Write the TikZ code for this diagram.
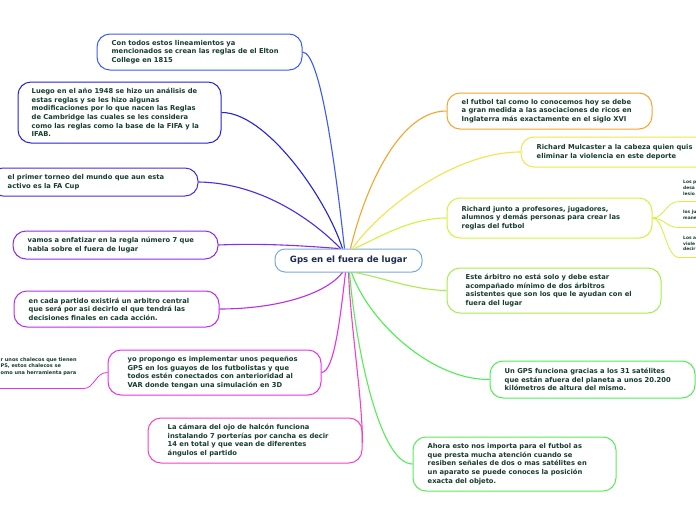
\documentclass[tikz,border=0pt]{standalone}
\usepackage{fontspec}
\setmainfont{DejaVu Sans}
\definecolor{txt}{HTML}{163C2C}
\definecolor{ctxt}{HTML}{1B2A50}
\definecolor{cb}{HTML}{7AAAD8}
\definecolor{c1}{HTML}{3C5CF0}
\definecolor{c2}{HTML}{2424D4}
\definecolor{c3}{HTML}{4E2ADA}
\definecolor{c4}{HTML}{8C2CE4}
\definecolor{c5}{HTML}{B830E4}
\definecolor{c6}{HTML}{E434E6}
\definecolor{c7}{HTML}{F242C4}
\definecolor{r1}{HTML}{F5A42C}
\definecolor{r2}{HTML}{F3E44C}
\definecolor{r3}{HTML}{D6F03C}
\definecolor{r4}{HTML}{A6EE4C}
\definecolor{r5}{HTML}{4EEE50}
\definecolor{r6}{HTML}{58EC58}
\tikzset{
  topic/.style={draw=#1, line width=1pt, fill=white, rounded corners=13pt, inner sep=0pt},
  tx/.style={font=\bfseries\fontsize{6.75}{8.6}\selectfont, text=txt, align=left, anchor=west, inner sep=0pt},
  link/.style={draw=#1, line width=1.1pt},
  subtxt/.style={font=\bfseries\fontsize{5}{6.6}\selectfont, text=txt, align=left, anchor=north west, inner sep=0pt},
  subtxtr/.style={font=\bfseries\fontsize{4.4}{5.6}\selectfont, text=txt, align=left, anchor=north west, inner sep=0pt}
}
\begin{document}
\begin{tikzpicture}[x=1pt,y=-1pt]
\clip (0,0) rectangle (696,520);
\fill[white] (0,0) rectangle (696,520);

% center
\node[draw=cb, line width=1pt, fill=white, rounded corners=10pt, minimum width=147pt, minimum height=23pt,
  font=\bfseries\fontsize{8.6}{10}\selectfont, text=ctxt] (c) at (348.5,260.5) {Gps en el fuera de lugar};

% left topic boxes
\node[topic=c1, minimum width=205pt, minimum height=36pt] (a1) at (199.5,52) {};
\node[topic=c2, minimum width=203pt, minimum height=61pt] (a2) at (119.5,112.5) {};
\node[topic=c3, minimum width=208pt, minimum height=28pt] (a3) at (94,182) {};
\node[topic=c4, minimum width=205pt, minimum height=28pt] (a4) at (115.5,245) {};
\node[topic=c5, minimum width=205pt, minimum height=36pt] (a5) at (116.5,309) {};
\node[topic=c6, minimum width=213pt, minimum height=45pt] (a6) at (214.5,372.5) {};
\node[topic=c7, minimum width=214pt, minimum height=45pt] (a7) at (255,440.5) {};
% right topic boxes
\node[topic=r1, minimum width=205pt, minimum height=36pt] (b1) at (549.5,111) {};
\node[topic=r2, minimum width=198pt, minimum height=30pt] (b2) at (620,152) {};
\node[topic=r3, minimum width=205pt, minimum height=40pt] (b3) at (549.5,218) {};
\node[topic=r4, minimum width=214pt, minimum height=45pt] (b4) at (554,290.5) {};
\node[topic=r5, minimum width=205pt, minimum height=37pt] (b5) at (592.5,379.5) {};
\node[topic=r6, minimum width=203pt, minimum height=54pt] (b6) at (514.5,464) {};

% connectors
\draw[link=c1] (a1.east) .. controls (322,52) and (338,190) .. ([xshift=-4pt]c.north);
\draw[link=c2] (a2.east) .. controls (265,112) and (325,195) .. ([xshift=-6pt]c.north);
\draw[link=c3] (a3.east) .. controls (265,183) and (318,225) .. ([xshift=-8pt]c.north);
\draw[link=c4] (a4.east) .. controls (265,243) and (305,246) .. ([xshift=-10pt]c.north);
\draw[link=c5] (a5.east) .. controls (275,309) and (325,295) .. ([xshift=-6pt]c.south);
\draw[link=c6] (a6.east) .. controls (334,372) and (340,320) .. ([xshift=-3pt]c.south);
\draw[link=c7] ([yshift=-2pt]a7.east) .. controls (362,395) and (351,330) .. ([xshift=0pt]c.south);
\draw[link=r1] (b1.west) .. controls (395,111) and (362,200) .. ([xshift=2pt]c.north);
\draw[link=r2] (b2.west) .. controls (450,152) and (375,215) .. ([xshift=4pt]c.north);
\draw[link=r3] (b3.west) .. controls (410,218) and (378,238) .. ([xshift=6pt]c.north);
\draw[link=r4] (b4.west) .. controls (412,290) and (378,276) .. ([xshift=6pt]c.south);
\draw[link=r5] (b5.west) .. controls (430,380) and (368,320) .. ([xshift=3pt]c.south);
\draw[link=r6] (b6.west) .. controls (380,464) and (356,350) .. ([xshift=1pt]c.south);

% texts
\node[tx] (ta1) at ([xshift=15pt]a1.west) {Con todos estos lineamientos ya\\mencionados se crean las reglas de el Elton\\College en 1815};
\node[tx] (ta2) at ([xshift=14pt]a2.west) {Luego en el año 1948 se hizo un análisis de\\estas reglas y se les hizo algunas\\modificaciones por lo que nacen las Reglas\\de Cambridge las cuales se les considera\\como las reglas como la base de la FIFA y la\\IFAB.};
\node[tx] (ta3) at ([xshift=18pt]a3.west) {el primer torneo del mundo que aun esta\\activo es la FA Cup};
\node[tx] (ta4) at ([xshift=15pt]a4.west) {vamos a enfatizar en la regla número 7 que\\habla sobre el fuera de lugar};
\node[tx] (ta5) at ([xshift=15pt]a5.west) {en cada partido existirá un arbitro central\\que será por asi decirlo el que tendrá las\\decisiones finales en cada acción.};
\node[tx] (ta6) at ([xshift=20pt]a6.west) {yo propongo es implementar unos pequeños\\GPS en los guayos de los futbolistas y que\\todos estén conectados con anterioridad al\\VAR donde tengan una simulación en 3D};
\node[tx] (ta7) at ([xshift=20pt]a7.west) {La cámara del ojo de halcón funciona\\instalando 7 porterías por cancha es decir\\14 en total y que vean de diferentes\\ángulos el partido};
\node[tx] (tb1) at ([xshift=15pt]b1.west) {el futbol tal como lo conocemos hoy se debe\\a gran medida a las asociaciones de ricos en\\Inglaterra más exactamente en el siglo XVI};
\node[tx] (tb2) at ([xshift=16pt]b2.west) {Richard Mulcaster a la cabeza quien quis\\eliminar la violencia en este deporte};
\node[tx] (tb3) at ([xshift=15pt]b3.west) {Richard junto a profesores, jugadores,\\alumnos y demás personas para crear las\\reglas del futbol};
\node[tx] (tb4) at ([xshift=19pt]b4.west) {Este árbitro no está solo y debe estar\\acompañado mínimo de dos árbitros\\asistentes que son los que le ayudan con el\\fuera del lugar};
\node[tx] (tb5) at ([xshift=15pt]b5.west) {Un GPS funciona gracias a los 31 satélites\\que están afuera del planeta a unos 20.200\\kilómetros de altura del mismo.};
\node[tx] (tb6) at ([xshift=15pt]b6.west) {Ahora esto nos importa para el futbol as\\que presta mucha atención cuando se\\resiben señales de dos o mas satélites en\\un aparato se puede conoces la posición\\exacta del objeto.};

% sub items right of b3
\coordinate (s1) at (679,201.5);
\coordinate (s2) at (679,227.5);
\coordinate (s3) at (679,257.5);
\coordinate (e1) at (700,201.5);
\coordinate (e2) at (700,227.5);
\coordinate (e3) at (700,257.5);
\draw[link=r3, line width=0.8pt] (b3.east) .. controls (664,218) and (666,201.5) .. (s1) -- (e1);
\draw[link=r3, line width=0.8pt] (b3.east) .. controls (664,218) and (666,227.5) .. (s2) -- (e2);
\draw[link=r3, line width=0.8pt] (b3.east) .. controls (664,218) and (666,257.5) .. (s3) -- (e3);
\node[subtxtr] (t1) at (683,180.5) {Los p\\desa\\lesio};
\node[subtxtr] (t2) at (683,210) {los ju\\mane};
\node[subtxtr] (t3) at (683,236) {Los a\\viole\\decir};

% sub item left of a6
\coordinate (u1) at (84,388.5);
\coordinate (u0) at (0,388.5);
\draw[link=c6, line width=0.8pt] (a6.west) .. controls (96,372) and (94,388.5) .. (u1) -- (u0);
\node[subtxt] (t4) at (0.5,357) {r unos chalecos que tienen\\PS, estos chalecos se\\omo una herramienta para};
\end{tikzpicture}
\end{document}
